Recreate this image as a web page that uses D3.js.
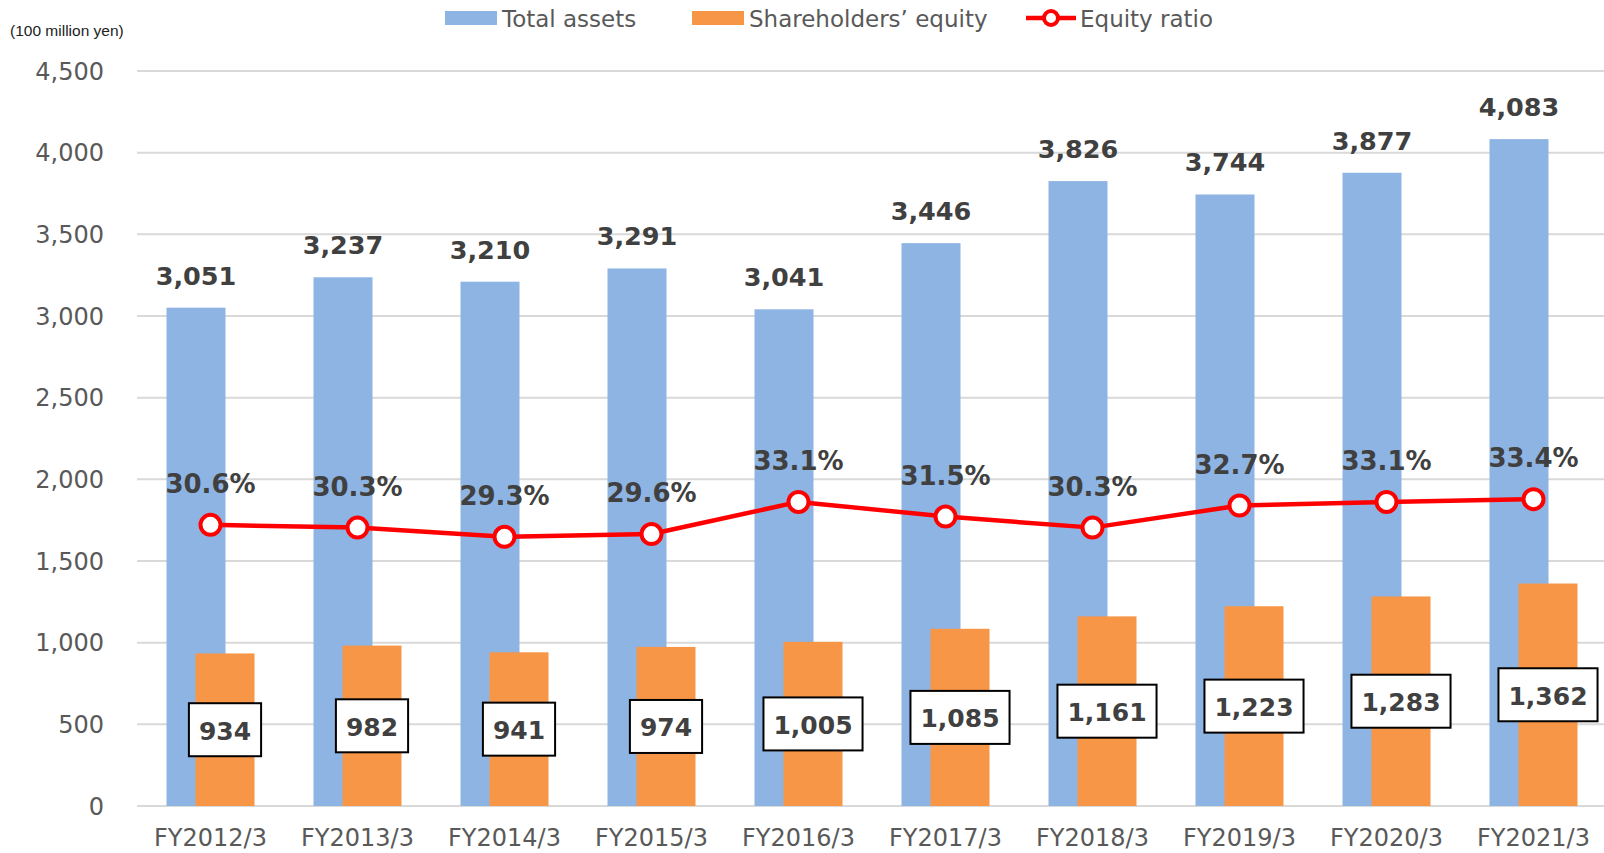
<!DOCTYPE html>
<html lang="en">
    <head>
        <meta charset="utf-8">
        <title>Total assets and equity</title>
        <script type="text/javascript" src="https://cdn.jsdelivr.net/npm/d3@7"></script>
        <style>
            body { margin: 0; background: #fff; }
        </style>
    </head>
    <body>
        <script type="text/javascript">
            // data
            var years = ["FY2012/3", "FY2013/3", "FY2014/3", "FY2015/3", "FY2016/3",
                         "FY2017/3", "FY2018/3", "FY2019/3", "FY2020/3", "FY2021/3"];
            var totalAssets = [3051, 3237, 3210, 3291, 3041, 3446, 3826, 3744, 3877, 4083];
            var equity = [934, 982, 941, 974, 1005, 1085, 1161, 1223, 1283, 1362];
            var equityRatio = [30.6, 30.3, 29.3, 29.6, 33.1, 31.5, 30.3, 32.7, 33.1, 33.4];
            var yTicks = [0, 500, 1000, 1500, 2000, 2500, 3000, 3500, 4000, 4500];

            var w = 1604;
            var h = 853;
            var barW = 59;
            var font = "'DejaVu Sans', Verdana, sans-serif";
            var blue = "#8EB4E3";
            var orange = "#F79646";
            var red = "#FF0000";
            var dark = "#404040";
            var gray = "#595959";

            var svg = d3.select("body").append("svg")
                .attr("width", w)
                .attr("height", h);

            var x = d3.scaleBand()
                .domain(years)
                .range([137, 1607]);

            var y = d3.scaleLinear()
                .domain([0, 4500])
                .range([806, 71]);

            // secondary axis for the ratio (hidden), 0 - 80%
            var y2 = d3.scaleLinear()
                .domain([0, 80])
                .range([806, 71]);

            function cx(d) {
                return x(d) + x.bandwidth() / 2;
            }

            // gridlines
            svg.selectAll("line.grid")
               .data(yTicks)
               .enter()
               .append("line")
               .attr("class", "grid")
               .attr("x1", 137)
               .attr("x2", w)
               .attr("y1", function(d) { return y(d); })
               .attr("y2", function(d) { return y(d); })
               .attr("stroke", "#D9D9D9")
               .attr("stroke-width", 2);

            // y axis labels
            var fmt = d3.format(",");
            svg.selectAll("text.ytick")
               .data(yTicks)
               .enter()
               .append("text")
               .attr("class", "ytick")
               .text(function(d) { return fmt(d); })
               .attr("x", 104)
               .attr("y", function(d) { return y(d) + 8.5; })
               .attr("text-anchor", "end")
               .attr("font-family", font)
               .attr("font-size", "24px")
               .attr("fill", gray);

            // x axis labels
            svg.selectAll("text.xtick")
               .data(years)
               .enter()
               .append("text")
               .attr("class", "xtick")
               .text(function(d) { return d; })
               .attr("x", function(d) { return cx(d); })
               .attr("y", 846)
               .attr("text-anchor", "middle")
               .attr("font-family", font)
               .attr("font-size", "24px")
               .attr("fill", gray);

            // total assets bars
            svg.selectAll("rect.assets")
               .data(totalAssets)
               .enter()
               .append("rect")
               .attr("class", "assets")
               .attr("x", function(d, i) { return cx(years[i]) - 44; })
               .attr("y", function(d) { return y(d); })
               .attr("width", barW)
               .attr("height", function(d) { return y(0) - y(d); })
               .attr("fill", blue);

            // shareholders' equity bars (overlapping)
            svg.selectAll("rect.equity")
               .data(equity)
               .enter()
               .append("rect")
               .attr("class", "equity")
               .attr("x", function(d, i) { return cx(years[i]) - 15; })
               .attr("y", function(d) { return y(d); })
               .attr("width", barW)
               .attr("height", function(d) { return y(0) - y(d); })
               .attr("fill", orange);

            // total assets labels
            svg.selectAll("text.assetsLabel")
               .data(totalAssets)
               .enter()
               .append("text")
               .attr("class", "assetsLabel")
               .text(function(d) { return fmt(d); })
               .attr("x", function(d, i) { return cx(years[i]) - 14.5; })
               .attr("y", function(d) { return y(d) - 23; })
               .attr("text-anchor", "middle")
               .attr("font-family", font)
               .attr("font-weight", "bold")
               .attr("font-size", "25.5px")
               .attr("fill", dark);

            // equity ratio line
            var line = d3.line()
                .x(function(d, i) { return cx(years[i]); })
                .y(function(d) { return y2(d); });

            svg.append("path")
               .datum(equityRatio)
               .attr("d", line)
               .attr("fill", "none")
               .attr("stroke", red)
               .attr("stroke-width", 4.5)
               .attr("stroke-linejoin", "round");

            svg.selectAll("circle.ratio")
               .data(equityRatio)
               .enter()
               .append("circle")
               .attr("class", "ratio")
               .attr("cx", function(d, i) { return cx(years[i]); })
               .attr("cy", function(d) { return y2(d); })
               .attr("r", 10)
               .attr("fill", "white")
               .attr("stroke", red)
               .attr("stroke-width", 4);

            svg.selectAll("text.ratioLabel")
               .data(equityRatio)
               .enter()
               .append("text")
               .attr("class", "ratioLabel")
               .text(function(d) { return d.toFixed(1) + "%"; })
               .attr("x", function(d, i) { return cx(years[i]); })
               .attr("y", function(d) { return y2(d) - 32; })
               .attr("text-anchor", "middle")
               .attr("font-family", font)
               .attr("font-weight", "bold")
               .attr("font-size", "26px")
               .attr("fill", dark);

            // boxed labels for equity, centred on the bar
            var boxes = svg.selectAll("g.eqLabel")
               .data(equity)
               .enter()
               .append("g")
               .attr("class", "eqLabel")
               .attr("transform", function(d, i) {
                   return "translate(" + (cx(years[i]) + 14.5) + "," + y(d / 2) + ")";
               });

            boxes.append("rect")
               .attr("fill", "white")
               .attr("stroke", "black")
               .attr("stroke-width", 2);

            boxes.append("text")
               .text(function(d) { return fmt(d); })
               .attr("y", 10)
               .attr("text-anchor", "middle")
               .attr("font-family", font)
               .attr("font-weight", "bold")
               .attr("font-size", "25px")
               .attr("fill", dark);

            boxes.each(function() {
                var g = d3.select(this);
                var tw = g.select("text").node().getComputedTextLength();
                g.select("rect")
                 .attr("x", -tw / 2 - 10)
                 .attr("y", -26.5)
                 .attr("width", tw + 20)
                 .attr("height", 53);
            });

            // unit
            svg.append("text")
               .text("(100 million yen)")
               .attr("x", 10)
               .attr("y", 36)
               .attr("font-family", "'Liberation Sans', Arial, sans-serif")
               .attr("font-size", "15.5px")
               .attr("fill", "#222");

            // legend
            var legend = svg.append("g");
            legend.append("rect")
                  .attr("x", 445).attr("y", 11)
                  .attr("width", 52).attr("height", 14)
                  .attr("fill", blue);
            legend.append("text")
                  .text("Total assets")
                  .attr("x", 502).attr("y", 27);
            legend.append("rect")
                  .attr("x", 692).attr("y", 11)
                  .attr("width", 52).attr("height", 14)
                  .attr("fill", orange);
            legend.append("text")
                  .text("Shareholders\u2019 equity")
                  .attr("x", 749).attr("y", 27);
            legend.append("line")
                  .attr("x1", 1026).attr("x2", 1076)
                  .attr("y1", 18).attr("y2", 18)
                  .attr("stroke", red)
                  .attr("stroke-width", 4.5);
            legend.append("circle")
                  .attr("cx", 1051).attr("cy", 18).attr("r", 7)
                  .attr("fill", "white")
                  .attr("stroke", red)
                  .attr("stroke-width", 4);
            legend.append("text")
                  .text("Equity ratio")
                  .attr("x", 1080).attr("y", 27);
            legend.selectAll("text")
                  .attr("font-family", font)
                  .attr("font-size", "23px")
                  .attr("fill", gray);
        </script>
    </body>
</html>
